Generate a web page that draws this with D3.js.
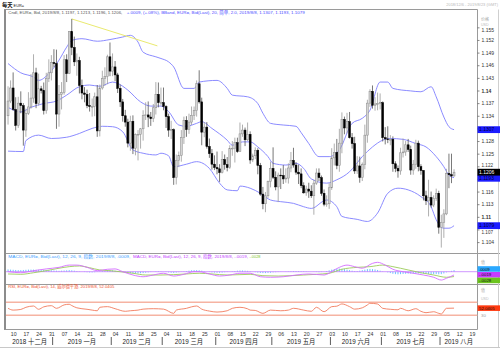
<!DOCTYPE html>
<html><head><meta charset="utf-8">
<script src="https://cdn.jsdelivr.net/npm/d3@7"></script>
<style>
html,body{margin:0;padding:0;background:#fff;}
svg{display:block;font-family:"Liberation Sans",Arial,"Noto Sans CJK SC",sans-serif;}
</style></head><body>
<svg id="c" width="500" height="352"></svg>
<script>
// ---------- DATA (EUR= daily, 2018/12/6 .. 2019/8/8) ----------
const opens = [1.1340,1.1375,
1.1406,1.1355,1.1317,1.1370,1.1364, 1.1306,1.1346,1.1361,1.1382,1.1442, 1.1369,1.1404,1.1400,1.1352,1.1429,
1.1442,1.1466,1.1464,1.1344,1.1391, 1.1395,1.1473,1.1440,1.1540,1.1502, 1.1468,1.1471,1.1412,1.1394,1.1391,
1.1364,1.1362,1.1362,1.1385,1.1304, 1.1406,1.1428,1.1433,1.1480,1.1446, 1.1456,1.1437,1.1405,1.1373,1.1340,
1.1325,1.1275,1.1327,1.1263,1.1295, 1.1296,1.1309,1.1341,1.1342,1.1337, 1.1333,1.1359,1.1391,1.1371,1.1371,
1.1362,1.1338,1.1306,1.1307,1.1193, 1.1234,1.1246,1.1288,1.1329,1.1307, 1.1325,1.1341,1.1352,1.1416,1.1373,
1.1301,1.1313,1.1267,1.1250,1.1225, 1.1217,1.1214,1.1205,1.1236,1.1224, 1.1217,1.1262,1.1263,1.1276,1.1255,
1.1297,1.1306,1.1283,1.1296,1.1235, 1.1245,1.1258,1.1222,1.1154,1.1131, 1.1150,1.1184,1.1215,1.1194,1.1171,
1.1199,1.1198,1.1190,1.1192,1.1216, 1.1234,1.1223,1.1206,1.1202,1.1174, 1.1157,1.1166,1.1161,1.1150,1.1180,
1.1204,1.1193,1.1156,1.1130,1.1131, 1.1169,1.1240,1.1253,1.1222,1.1275, 1.1331,1.1311,1.1326,1.1288,1.1274,
1.1209,1.1221,1.1193,1.1224,1.1294, 1.1370,1.1398,1.1365,1.1368,1.1369, 1.1371,1.1288,1.1285,1.1284,1.1284,
1.1226,1.1215,1.1209,1.1252,1.1254, 1.1271,1.1260,1.1211,1.1225,1.1275, 1.1219,1.1210,1.1150,1.1138,1.1146,
1.1128,1.1144,1.1156,1.1075,1.1087, 1.1107,1.1203,1.1200,1.1197];
const highs = [1.1410,1.1424,
1.1443,1.1384,1.1385,1.1398,1.1370, 1.1357,1.1396,1.1439,1.1486,1.1454, 1.1440,1.1411,1.1419,1.1442,1.1474,
1.1484,1.1498,1.1497,1.1413,1.1420, 1.1484,1.1486,1.1541,1.1570,1.1528, 1.1488,1.1480,1.1426,1.1408,1.1402,
1.1394,1.1381,1.1395,1.1413,1.1414, 1.1447,1.1455,1.1485,1.1514,1.1488, 1.1470,1.1442,1.1414,1.1380,1.1354,
1.1333,1.1340,1.1341,1.1298,1.1306, 1.1311,1.1353,1.1372,1.1374,1.1349, 1.1368,1.1420,1.1419,1.1407,1.1407,
1.1365,1.1345,1.1328,1.1310,1.1248, 1.1255,1.1306,1.1338,1.1339,1.1345, 1.1362,1.1362,1.1424,1.1448,1.1383,
1.1325,1.1325,1.1286,1.1261,1.1246, 1.1255,1.1225,1.1256,1.1248,1.1242, 1.1270,1.1280,1.1288,1.1288,1.1324,
1.1319,1.1312,1.1324,1.1303,1.1250, 1.1265,1.1263,1.1228,1.1171,1.1159, 1.1186,1.1231,1.1265,1.1208,1.1205,
1.1215,1.1223,1.1215,1.1227,1.1254, 1.1264,1.1230,1.1224,1.1215,1.1182, 1.1174,1.1181,1.1175,1.1188,1.1215,
1.1215,1.1198,1.1165,1.1151,1.1180, 1.1263,1.1274,1.1285,1.1309,1.1348, 1.1338,1.1347,1.1349,1.1299,1.1290,
1.1244,1.1243,1.1229,1.1319,1.1378, 1.1403,1.1412,1.1384,1.1395,1.1393, 1.1374,1.1313,1.1315,1.1294,1.1291,
1.1232,1.1222,1.1264,1.1286,1.1280, 1.1285,1.1269,1.1235,1.1283,1.1281, 1.1225,1.1211,1.1162,1.1188,1.1160,
1.1151,1.1167,1.1162,1.1105,1.1118, 1.1214,1.1250,1.1250,1.1213];
const lows = [1.1319,1.1370,
1.1352,1.1305,1.1311,1.1346,1.1269, 1.1290,1.1342,1.1357,1.1371,1.1358, 1.1364,1.1393,1.1343,1.1345,1.1420,
1.1424,1.1455,1.1309,1.1314,1.1355, 1.1390,1.1420,1.1439,1.1484,1.1458, 1.1435,1.1393,1.1379,1.1372,1.1358,
1.1350,1.1338,1.1339,1.1290,1.1291, 1.1402,1.1411,1.1415,1.1434,1.1434, 1.1422,1.1394,1.1361,1.1326,1.1314,
1.1265,1.1257,1.1249,1.1246,1.1234, 1.1262,1.1281,1.1330,1.1313,1.1316, 1.1325,1.1343,1.1360,1.1364,1.1353,
1.1311,1.1290,1.1285,1.1176,1.1177, 1.1218,1.1231,1.1273,1.1290,1.1297, 1.1318,1.1330,1.1338,1.1369,1.1270,
1.1289,1.1262,1.1240,1.1212,1.1211, 1.1201,1.1183,1.1203,1.1212,1.1208, 1.1214,1.1245,1.1229,1.1252,1.1254,
1.1290,1.1268,1.1280,1.1226,1.1230, 1.1237,1.1201,1.1150,1.1118,1.1111, 1.1145,1.1170,1.1190,1.1163,1.1135,
1.1166,1.1178,1.1181,1.1179,1.1206, 1.1217,1.1200,1.1178,1.1168,1.1155, 1.1150,1.1145,1.1145,1.1105,1.1176,
1.1185,1.1150,1.1125,1.1124,1.1119, 1.1164,1.1222,1.1213,1.1207,1.1251, 1.1296,1.1298,1.1286,1.1262,1.1202,
1.1202,1.1181,1.1185,1.1213,1.1276, 1.1361,1.1357,1.1352,1.1353,1.1355, 1.1279,1.1272,1.1275,1.1270,1.1207,
1.1206,1.1193,1.1200,1.1241,1.1245, 1.1254,1.1200,1.1200,1.1214,1.1208, 1.1200,1.1139,1.1128,1.1101,1.1122,
1.1123,1.1138,1.1060,1.1027,1.1050, 1.1104,1.1168,1.1180,1.1196];
const closes = [1.1375,1.1406,
1.1355,1.1317,1.1370,1.1364,1.1306, 1.1346,1.1361,1.1382,1.1442,1.1369, 1.1404,1.1400,1.1352,1.1429,1.1442,
1.1466,1.1464,1.1344,1.1391,1.1395, 1.1473,1.1440,1.1540,1.1502,1.1468, 1.1471,1.1412,1.1394,1.1391,1.1364,
1.1362,1.1362,1.1385,1.1304,1.1406, 1.1428,1.1433,1.1480,1.1446,1.1456, 1.1437,1.1405,1.1373,1.1340,1.1325,
1.1275,1.1327,1.1263,1.1295,1.1296, 1.1309,1.1341,1.1342,1.1337,1.1333, 1.1359,1.1391,1.1371,1.1371,1.1362,
1.1338,1.1306,1.1307,1.1193,1.1234, 1.1246,1.1288,1.1329,1.1307,1.1325, 1.1341,1.1352,1.1416,1.1373,1.1301,
1.1313,1.1267,1.1250,1.1225,1.1217, 1.1214,1.1205,1.1236,1.1224,1.1217, 1.1262,1.1263,1.1276,1.1255,1.1297,
1.1306,1.1283,1.1296,1.1235,1.1245, 1.1258,1.1222,1.1154,1.1131,1.1150, 1.1184,1.1215,1.1194,1.1171,1.1199,
1.1198,1.1190,1.1192,1.1216,1.1234, 1.1223,1.1206,1.1202,1.1174,1.1157, 1.1166,1.1161,1.1150,1.1180,1.1204,
1.1193,1.1156,1.1130,1.1131,1.1169, 1.1240,1.1253,1.1222,1.1275,1.1331, 1.1311,1.1326,1.1288,1.1274,1.1209,
1.1221,1.1193,1.1224,1.1294,1.1370, 1.1398,1.1365,1.1368,1.1369,1.1371, 1.1288,1.1285,1.1284,1.1284,1.1226,
1.1215,1.1209,1.1252,1.1254,1.1271, 1.1260,1.1211,1.1225,1.1275,1.1219, 1.1210,1.1150,1.1138,1.1146,1.1128,
1.1144,1.1156,1.1075,1.1087,1.1107, 1.1203,1.1200,1.1197,1.1206];

// Bollinger band readings [trading-day index, price]
const bbUpper = [[0,1.1464],[5,1.1442],[10,1.1432],[12,1.1424],[16,1.1440],[20,1.1472],[23,1.1503],[25,1.1519],[29,1.1523],[35,1.1517],[40,1.1521],[45,1.1527],[48,1.1531],[51,1.1515],[53,1.1491],[58,1.1480],[60,1.1476],[63,1.1468],[65,1.1456],[69,1.1405],[73,1.1405],[75,1.1420],[82,1.1424],[86,1.1405],[88,1.1389],[94,1.1385],[98,1.1369],[100,1.1346],[103,1.1322],[108,1.1318],[113,1.1315],[115,1.1300],[118,1.1274],[122,1.1243],[126,1.1243],[130,1.1259],[135,1.1322],[139,1.1334],[142,1.1353],[146,1.1420],[149,1.1420],[151,1.1405],[158,1.1399],[162,1.1397],[166,1.1409],[168,1.1385],[171,1.1337],[173,1.1314],[175,1.1307]];
const bbMiddle = [[0,1.1360],[5,1.1349],[9,1.1360],[14,1.1369],[19,1.1375],[23,1.1389],[28,1.1409],[32,1.1413],[36,1.1410],[41,1.1420],[43,1.1417],[47,1.1401],[52,1.1373],[56,1.1363],[60,1.1363],[63,1.1350],[67,1.1318],[70,1.1315],[74,1.1322],[76,1.1326],[80,1.1310],[86,1.1282],[88,1.1270],[92,1.1278],[95,1.1278],[98,1.1266],[102,1.1243],[104,1.1227],[109,1.1223],[113,1.1227],[116,1.1215],[119,1.1190],[125,1.1180],[129,1.1188],[134,1.1207],[139,1.1243],[143,1.1266],[147,1.1282],[150,1.1286],[155,1.1284],[160,1.1274],[164,1.1266],[168,1.1243],[171,1.1219],[173,1.1199],[175,1.1193]];
const bbLower = [[0,1.1256],[6,1.1255],[7,1.1281],[12,1.1294],[17,1.1286],[23,1.1289],[28,1.1298],[33,1.1310],[37,1.1315],[41,1.1314],[45,1.1302],[49,1.1259],[53,1.1251],[58,1.1247],[60,1.1251],[63,1.1245],[65,1.1219],[70,1.1225],[74,1.1231],[79,1.1215],[83,1.1180],[86,1.1164],[90,1.1162],[91,1.1173],[95,1.1168],[99,1.1156],[103,1.1140],[107,1.1136],[112,1.1132],[116,1.1124],[119,1.1120],[125,1.1140],[129,1.1124],[131,1.1101],[137,1.1094],[141,1.1089],[145,1.1109],[149,1.1156],[153,1.1168],[157,1.1164],[162,1.1148],[166,1.1124],[168,1.1093],[171,1.1073],[173,1.1073],[175,1.1079]];
// drawn trend line [index, price]
const trendLine = [[25,1.1570],[58.6,1.1506]];

// MACD (pips = 0.0001) readings [index, value]
const macdLine = [[0,0],[5,-6],[10,6],[15,16],[20,25],[24,38],[27,38],[31,25],[35,6],[39,14],[42,16],[45,0],[49,-19],[53,-29],[57,-19],[61,-9],[65,-25],[69,-15],[73,0],[75,0],[79,-13],[83,-25],[87,-19],[91,-9],[95,-9],[99,-29],[103,-32],[108,-29],[113,-19],[118,-13],[124,-19],[128,10],[130,25],[133,38],[136,29],[139,20],[143,48],[145,54],[148,38],[151,14],[155,0],[159,-9],[163,-19],[167,-32],[170,-48],[172,-38],[175,-19]];
const signalLine = [[0,-13],[5,-15],[10,-6],[15,6],[20,20],[24,29],[28,33],[32,23],[36,10],[40,6],[44,0],[49,-9],[54,-19],[60,-19],[65,-17],[70,-13],[75,-9],[80,-13],[86,-19],[91,-17],[95,-15],[100,-23],[106,-25],[111,-23],[116,-19],[121,-15],[126,-9],[131,14],[137,25],[142,29],[147,38],[151,29],[157,10],[162,-6],[167,-19],[172,-32],[175,-28]];
const macdHist = [13,12,11,10,9,9,10,11,12,12, 12,11,11,10,10,10,9,8,7,6, 5,6,7,8,9,8,6,4,2,0,
-2,-3,-4,-4,-3,-1,2,4,6,8, 9,8,6,4,1,-2,-5,-7,-9,-10, -10,-10,-9,-8,-6,-4,-2,0,2,3,
2,0,-2,-4,-6,-7,-5,-3,-1,2, 4,6,8,9,9,8,6,3,0,-2, -4,-5,-6,-6,-5,-3,-2,0,2,4,
6,7,7,6,5,3,0,-3,-5,-7, -8,-8,-7,-6,-4,-3,-2,-1,0,1, 2,3,4,4,4,3,3,2,1,0,
-1,-2,-3,-2,0,4,8,12,15,17, 18,17,15,12,9,6,4,4,6,9, 12,15,16,15,13,10,6,2,0,-4,
-8,-12,-14,-15,-14,-13,-12,-11,-11,-11, -10,-10,-10,-11,-12,-13,-14,-14,-14,-15, -14,-10,-4,1,5,9];

// RSI(14) readings [index, value]
const rsiLine = [[0,51.5],[2,46],[5,48],[7,54.6],[10,58.6],[12,48.5],[14,56],[17,59.6],[19,51.5],[22,62],[24,64],[25,60],[27,53],[31,48.5],[33,46],[35,44],[36,54.6],[39,56.6],[42,50.3],[46,42.3],[48,44],[51,46],[53,49],[57,50.3],[61,49],[65,36],[66,46],[70,51.5],[72,56],[74,58.6],[76,49],[79,43],[82,40],[86,44],[88,51.5],[91,54.6],[94,50],[95,46],[97,45],[100,36],[103,46],[107,44],[110,46],[112,51.5],[116,46],[119,42.3],[121,54.6],[124,41],[127,56.6],[129,58],[131,65],[134,56.6],[136,49],[139,53],[141,62],[142,67],[145,64.8],[147,51.5],[150,48.5],[153,47],[154,51.5],[157,44],[160,50.3],[162,42.3],[164,38],[167,41],[169,36],[170,34],[172,51.5],[175,52.04]];

const priceTicks = [1.155,1.152,1.149,1.146,1.143,1.14,1.137,1.134,1.131,1.128,1.125,1.122,1.119,1.116,1.113,1.11,1.107,1.104];
const priceBoxes = [1.1307, 1.1193, 1.1079];   // Bollinger upper / middle / lower
const lastClose = 1.1206;
const monthNames = ["一月","二月","三月","四月","五月","六月","七月","八月","九月","十月","十一月","十二月"];
const axisDays = d3.timeDays(new Date(2018,11,6), new Date(2019,7,24)).filter(d => d.getDay() !== 0 && d.getDay() !== 6);

// ---------- DRAW ----------
const svg = d3.select("#c");
const PL = 6, PR = 477.5;
const x = d3.scaleLinear().domain([-0.8, 184.4]).range([6, 478]);
const yP = d3.scaleLinear().domain([1.14, 1.104]).range([90.5, 242.1]);
const yM = d3.scaleLinear().domain([0, -19]).range([271.7, 275.0]);
const yR = d3.scaleLinear().domain([30, 70]).range([315.3, 302.3]);

const defs = svg.append("defs");
function clip(id, y0, y1){ defs.append("clipPath").attr("id", id).append("rect").attr("x", PL).attr("y", y0).attr("width", PR - PL).attr("height", y1 - y0); }
clip("cP", 10, 253.5); clip("cM", 254, 284.5); clip("cR", 285, 329.5);

// title
const t = svg.append("text").attr("x", 2).attr("y", 6.8).attr("font-size", 5.3).attr("font-weight", "bold").attr("fill", "#111").text("每天");
t.append("tspan").attr("font-size", 3.8).attr("font-weight", "normal").attr("dx", 1).text("EUR=");
svg.append("text").attr("x", 498).attr("y", 6.3).attr("text-anchor", "end").attr("font-size", 4).attr("fill", "#b8b8b8").text("2018/12/6 - 2019/8/23 (GMT)");

// frame lines
const fr = svg.append("g").attr("stroke", "#9a9a9a").attr("stroke-width", 1).attr("fill", "none");
fr.append("line").attr("x1", 4).attr("x2", PR).attr("y1", 9.5).attr("y2", 9.5);
fr.append("line").attr("x1", PR).attr("x2", PR).attr("y1", 9.5).attr("y2", 329.5);
fr.append("line").attr("x1", 4).attr("x2", 500).attr("y1", 253.5).attr("y2", 253.5);
fr.append("line").attr("x1", 4).attr("x2", 500).attr("y1", 284.5).attr("y2", 284.5);
fr.append("line").attr("x1", 4).attr("x2", PR).attr("y1", 329.5).attr("y2", 329.5);
fr.append("line").attr("x1", 498.5).attr("x2", 498.5).attr("y1", 9.5).attr("y2", 347).attr("stroke", "#cfcfcf");
fr.append("line").attr("x1", 0).attr("x2", 500).attr("y1", 347.5).attr("y2", 347.5).attr("stroke", "#c8c8c8");
svg.append("rect").attr("x", 4).attr("y", 9.5).attr("width", 2).attr("height", 320).attr("fill", "#8c8c8c");

// ---- price panel ----
const gP = svg.append("g").attr("clip-path", "url(#cP)");
const bandLine = d3.line().x(d => x(d[0])).y(d => yP(d[1])).curve(d3.curveMonotoneX);
[bbUpper, bbMiddle, bbLower].forEach(a => gP.append("path").attr("d", bandLine(a)).attr("fill", "none").attr("stroke", "#7e7eff").attr("stroke-width", 0.9));
gP.append("path").attr("d", d3.line().x(d => x(d[0])).y(d => yP(d[1]))(trendLine)).attr("stroke", "#eaea70").attr("stroke-width", 1).attr("fill", "none");

const idx = d3.range(closes.length);
const up = i => closes[i] >= opens[i];
gP.selectAll("line.w").data(idx).join("line").attr("class", "w")
  .attr("x1", i => x(i)).attr("x2", i => x(i))
  .attr("y1", i => yP(highs[i])).attr("y2", i => yP(lows[i]))
  .attr("stroke", i => up(i) ? "#9a9a9a" : "#555").attr("stroke-width", 0.8);
const bw = 1.9;
gP.selectAll("rect.b").data(idx).join("rect").attr("class", "b")
  .attr("x", i => x(i) - bw / 2).attr("width", bw)
  .attr("y", i => yP(Math.max(opens[i], closes[i])))
  .attr("height", i => Math.max(0.8, Math.abs(yP(opens[i]) - yP(closes[i]))))
  .attr("fill", i => up(i) ? "#d4d4d4" : "#000")
  .attr("stroke", i => up(i) ? "#8a8a8a" : "#000").attr("stroke-width", 0.5);

// header helper
function header(y, segs){
  segs.forEach(s => svg.append("text").attr("x", s.x).attr("y", y).attr("font-size", 4.3).attr("fill", s.c)
    .attr("textLength", s.w).attr("lengthAdjust", "spacingAndGlyphs").text(s.t));
}
header(14.3, [
  {x: 8.3, w: 114, c: "#555", t: "Cndl, EUR=, Bid, 2019/8/8, 1.1197, 1.1213, 1.1196, 1.1206,"},
  {x: 126.7, w: 178, c: "#4a4aff", t: "+.0009, (+.08%), BBand, EUR=, Bid(Last), 20, 简单, 2.0, 2019/8/8, 1.1307, 1.1193, 1.1079"}
]);

// price axis (labels hidden under value boxes are not drawn, as in the reference)
const boxYs = priceBoxes.map(v => yP(v)).concat([yP(lastClose)]);
const ax = svg.append("g").attr("transform", `translate(${PR},0)`)
  .call(d3.axisRight(yP).tickValues(priceTicks).tickSize(2).tickPadding(2).tickFormat(d => String(d)));
ax.select(".domain").remove();
ax.selectAll("line").attr("stroke", "#555").attr("stroke-width", 0.7);
ax.selectAll("text").attr("font-size", 5).attr("fill", "#333").attr("font-family", null)
  .attr("font-weight", d => Math.abs(d * 100 - Math.round(d * 100)) < 1e-9 ? "bold" : "normal");
ax.selectAll(".tick").filter(d => yP(d) < 30).select("text").attr("dy", "0.9em");
ax.selectAll(".tick").each(function(d){
  const y = yP(d);
  const near = boxYs.map(b => y - b).filter(dd => Math.abs(dd) < 6.5);
  if (!near.length) return;
  const dd = near[0];
  if (Math.abs(dd) < 3.6) d3.select(this).select("text").remove();
  else d3.select(this).select("text").attr("dy", `${0.32 + (dd > 0 ? 6.8 - dd : -(6.8 + dd)) / 5}em`).attr("font-size", 4.6);
});
svg.append("text").attr("x", 481).attr("y", 20.5).attr("font-size", 4).attr("fill", "#aaa").text("价格");
svg.append("text").attr("x", 481).attr("y", 25.5).attr("font-size", 3.6).attr("fill", "#bbb").text("USD");

function box(y, txt, bg, fg){
  svg.append("rect").attr("x", PR).attr("y", y - 3.4).attr("width", 22.5).attr("height", 6.8).attr("fill", bg);
  svg.append("text").attr("x", PR + 1.5).attr("y", y + 1.7).attr("font-size", 5).attr("fill", fg).text(txt);
}
box(yP(priceBoxes[0]), "1.1307", "#1c1cff", "#000040");
box(yP(priceBoxes[1]) + 0.6, "1.1193", "#1c1cff", "#000040");
box(yP(lastClose), "1.1206", "#000", "#fff");
box(yP(priceBoxes[2]), "1.1079", "#1c1cff", "#000040");

// ---- MACD panel ----
const gM = svg.append("g").attr("clip-path", "url(#cM)");
gM.selectAll("rect.h").data(idx).join("rect").attr("class", "h")
  .attr("x", i => x(i) - 0.5).attr("width", 1)
  .attr("y", i => Math.min(yM(0), yM(macdHist[i])))
  .attr("height", i => Math.abs(yM(macdHist[i]) - yM(0)))
  .attr("fill", "#6cc4ff");
gM.append("line").attr("x1", PL).attr("x2", PR).attr("y1", yM(0)).attr("y2", yM(0)).attr("stroke", "#c27cff").attr("stroke-width", 0.8);
const mLine = d3.line().x(d => x(d[0])).y(d => yM(d[1])).curve(d3.curveMonotoneX);
gM.append("path").attr("d", mLine(signalLine)).attr("fill", "none").attr("stroke", "#9ccc5a").attr("stroke-width", 0.9);
gM.append("path").attr("d", mLine(macdLine)).attr("fill", "none").attr("stroke", "#d46cff").attr("stroke-width", 0.9);
header(258.2, [
  {x: 8.3, w: 122, c: "#3aa0ff", t: "MACD, EUR=, Bid(Last), 12, 26, 9, 指数, 2019/8/8, .0009,"},
  {x: 133, w: 115, c: "#c23cff", t: "MACD, EUR=, Bid(Last), 12, 26, 9, 指数, 2019/8/8, -.0019,"},
  {x: 249.5, w: 11, c: "#7cc62a", t: "-.0028"}
]);
svg.append("text").attr("x", 481).attr("y", 263.5).attr("font-size", 4).attr("fill", "#aaa").text("值");
function sbox(y, txt, bg){
  svg.append("rect").attr("x", PR).attr("y", y - 2.8).attr("width", 22.5).attr("height", 5.6).attr("fill", bg);
  svg.append("text").attr("x", PR + 1.5).attr("y", y + 1.5).attr("font-size", 4.3).attr("fill", "#111").text(txt);
}
sbox(269, ".0009", "#2aa8ff");
sbox(274.8, "-.0019", "#c83cff");
sbox(280.4, "-.0028", "#6cc41e");

// ---- RSI panel ----
const gR = svg.append("g").attr("clip-path", "url(#cR)");
[70, 30].forEach(v => gR.append("line").attr("x1", PL).attr("x2", PR).attr("y1", yR(v)).attr("y2", yR(v)).attr("stroke", "#f6b3a2").attr("stroke-width", 1.5));
gR.append("path").attr("d", d3.line().x(d => x(d[0])).y(d => yR(d[1])).curve(d3.curveMonotoneX)(rsiLine))
  .attr("fill", "none").attr("stroke", "#f27a5c").attr("stroke-width", 0.9);
header(287.6, [{x: 8.3, w: 106, c: "#f0502a", t: "RSI, EUR=, Bid(Last), 14, 威尔德平滑, 2019/8/8, 52.0405"}]);
svg.append("text").attr("x", 481).attr("y", 291.5).attr("font-size", 4).attr("fill", "#aaa").text("值");
svg.append("text").attr("x", 481).attr("y", 300).attr("font-size", 3.6).attr("fill", "#bbb").text("USD");
sbox(yR(52.04), "52.0405", "#ff3a10");
svg.append("text").attr("x", 481).attr("y", yR(30) + 1.6).attr("font-size", 4.3).attr("fill", "#999").text("30");

// ---- date axis ----
const mondays = axisDays.map((d, i) => [d, i]).filter(p => p[0].getDay() === 1);
const dx = svg.append("g").attr("transform", "translate(0,329.5)")
  .call(d3.axisBottom(x).tickValues(mondays.map(p => p[1])).tickSize(0).tickPadding(3)
    .tickFormat(i => d3.timeFormat("%d")(axisDays[i])));
dx.select(".domain").remove();
dx.selectAll("text").attr("font-size", 5.2).attr("fill", "#333").attr("font-family", null).attr("dy", "0.71em");

const months = d3.groups(axisDays.map((d, i) => [d, i]), p => p[0].getFullYear() * 12 + p[0].getMonth());
months.forEach(([k, arr]) => {
  const first = arr[0][1], last = arr[arr.length - 1][1];
  const a = Math.max(PL, x(first - 0.5)), b = Math.min(PR, x(last + 0.5));
  const d = arr[0][0];
  svg.append("text").attr("x", (a + b) / 2).attr("y", 344).attr("text-anchor", "middle")
    .attr("font-size", 6.3).attr("fill", "#222").text(`${d.getFullYear()} ${monthNames[d.getMonth()]}`);
  if (first > 0) svg.append("line").attr("x1", x(first - 0.5)).attr("x2", x(first - 0.5)).attr("y1", 337).attr("y2", 345).attr("stroke", "#333").attr("stroke-width", 0.8);
});
</script>
</body></html>
